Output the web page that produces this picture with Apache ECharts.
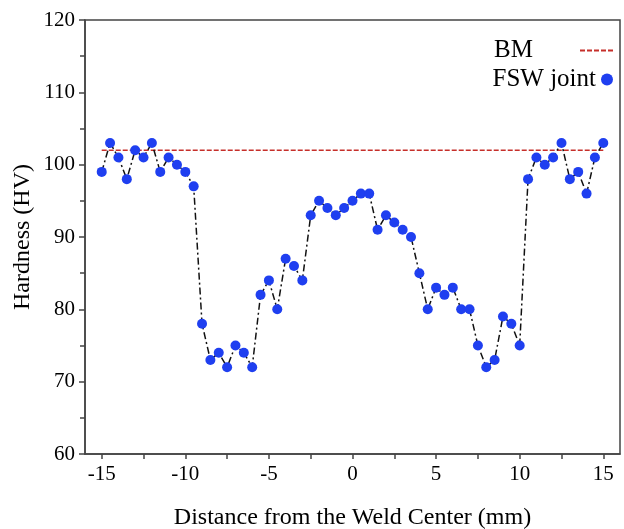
<!DOCTYPE html>
<html>
<head>
<meta charset="utf-8">
<script src="https://cdn.jsdelivr.net/npm/echarts@6/dist/echarts.min.js"></script>
<style>
  html, body { margin: 0; padding: 0; background: #fff; }
  #main { width: 624px; height: 529px; }
</style>
</head>
<body>
<div id="main"></div>
<script>
  // distance from weld center (mm) and measured hardness (HV)
  var distance = [-15, -14.5, -14, -13.5, -13, -12.5, -12, -11.5, -11, -10.5, -10, -9.5, -9, -8.5, -8, -7.5, -7, -6.5, -6, -5.5, -5, -4.5, -4, -3.5, -3, -2.5, -2, -1.5, -1, -0.5, 0, 0.5, 1, 1.5, 2, 2.5, 3, 3.5, 4, 4.5, 5, 5.5, 6, 6.5, 7, 7.5, 8, 8.5, 9, 9.5, 10, 10.5, 11, 11.5, 12, 12.5, 13, 13.5, 14, 14.5, 15];
  var hardness = [99, 103, 101, 98, 102, 101, 103, 99, 101, 100, 99, 97, 78, 73, 74, 72, 75, 74, 72, 82, 84, 80, 87, 86, 84, 93, 95, 94, 93, 94, 95, 96, 96, 91, 93, 92, 91, 90, 85, 80, 83, 82, 83, 80, 80, 75, 72, 73, 79, 78, 75, 98, 101, 100, 101, 103, 98, 99, 96, 101, 103];
  var bmRange = [-15, 15];
  var bmHardness = 102;
  var xLabels = [-15, -10, -5, 0, 5, 10, 15];
  var xTicks = [-15, -12.5, -10, -7.5, -5, -2.5, 0, 2.5, 5, 7.5, 10, 12.5, 15];

  var font = 'Liberation Serif';
  var fswData = distance.map(function (d, i) { return [d, hardness[i]]; });
  var bmData = bmRange.map(function (d) { return [d, bmHardness]; });

  var chart = echarts.init(document.getElementById('main'));
  chart.setOption({
    animation: false,
    textStyle: { fontFamily: font },
    grid: {
      left: 85, right: 4, top: 20, bottom: 75,
      outerBoundsMode: 'none',
      show: true, borderColor: '#444', borderWidth: 1.5
    },
    legend: [
      {
        data: [{ name: 'BM', itemStyle: { opacity: 0 } }],
        orient: 'vertical', align: 'right',
        right: 5, top: 33,
        itemWidth: 33, itemHeight: 12,
        textStyle: { fontFamily: font, fontSize: 25, color: '#000', padding: [0, 42, 0, 0] }
      },
      {
        data: [{ name: 'FSW joint', icon: 'circle' }],
        orient: 'vertical', align: 'right',
        right: 6, top: 62,
        itemWidth: 12, itemHeight: 12,
        textStyle: { fontFamily: font, fontSize: 25, color: '#000' }
      }
    ],
    xAxis: {
      type: 'value',
      min: -16, max: 16,
      name: 'Distance from the Weld Center (mm)',
      nameLocation: 'middle', nameGap: 52,
      nameMoveOverlap: false,
      nameTextStyle: { fontFamily: font, fontSize: 24, color: '#000' },
      splitLine: { show: false },
      axisLine: { show: true, onZero: false, lineStyle: { color: '#444', width: 1.5 } },
      axisTick: { show: true, customValues: xTicks, length: 5, lineStyle: { color: '#444', width: 1.5 } },
      axisLabel: { customValues: xLabels, margin: 10, fontFamily: font, fontSize: 21, color: '#000' }
    },
    yAxis: {
      type: 'value',
      min: 60, max: 120, interval: 10,
      name: 'Hardness (HV)',
      nameLocation: 'middle', nameGap: 50,
      nameMoveOverlap: false,
      nameTextStyle: { fontFamily: font, fontSize: 24, color: '#000' },
      splitLine: { show: false },
      axisLine: { show: true, onZero: false, lineStyle: { color: '#444', width: 1.5 } },
      axisTick: { show: true, length: 6, lineStyle: { color: '#444', width: 1.5 } },
      minorTick: { show: true, splitNumber: 2, length: 5, lineStyle: { color: '#444', width: 1.5 } },
      axisLabel: { margin: 10, fontFamily: font, fontSize: 21, color: '#000' }
    },
    series: [
      {
        name: 'BM',
        type: 'line',
        data: bmData,
        symbol: 'none',
        color: '#c62f2a',
        lineStyle: { color: '#c62f2a', width: 1.5, type: [5, 2] },
        z: 1
      },
      {
        name: 'FSW joint',
        type: 'line',
        data: fswData,
        symbol: 'circle',
        symbolSize: 10,
        color: '#1f3ff0',
        itemStyle: { color: '#1f3ff0' },
        lineStyle: { color: '#111', width: 1.5, type: [7, 3, 2, 3] },
        z: 2
      }
    ]
  });
</script>
</body>
</html>
